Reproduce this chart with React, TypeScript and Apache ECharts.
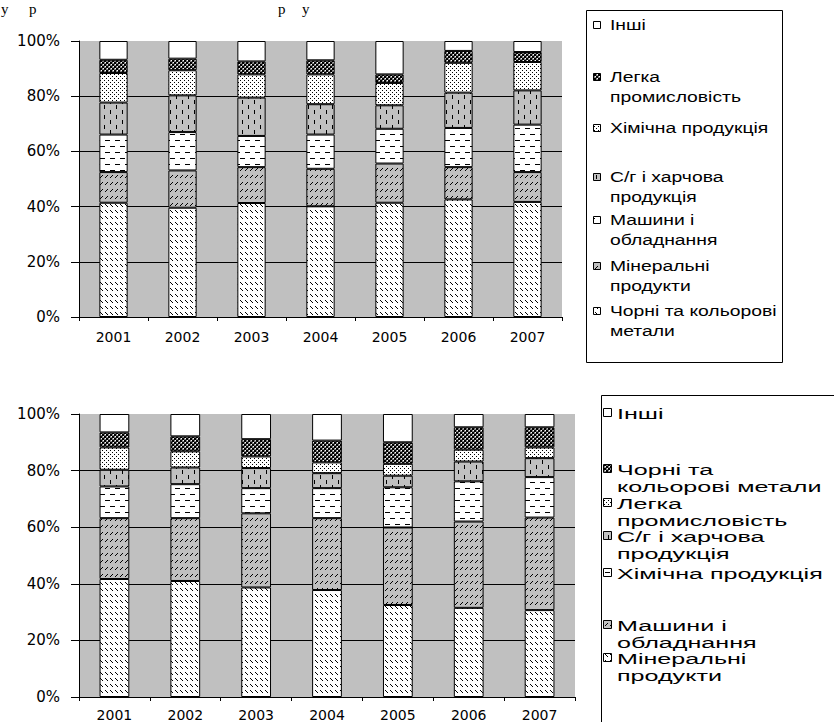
import React, { useEffect, useRef } from 'react';
import * as echarts from 'echarts';

// ---------- DATA ----------
const years = ['2001', '2002', '2003', '2004', '2005', '2006', '2007'];

// Top chart (stack bottom -> top)
const topNames = [
  'Чорні та кольорові метали',
  'Мінеральні продукти',
  'Машини і обладнання',
  'С/г і харчова продукція',
  'Хімічна продукція',
  'Легка промисловість',
  'Інші',
];
const topMetals = [41.4, 39.6, 41.3, 40.1, 41.4, 42.6, 41.7];
const topMinerals = [11.1, 13.5, 13.0, 13.6, 14.2, 11.7, 10.8];
const topMachines = [13.6, 13.9, 11.3, 12.4, 12.6, 14.2, 17.2];
const topAgro = [11.6, 13.3, 13.9, 11.0, 8.5, 12.8, 12.4];
const topChem = [10.7, 9.1, 8.4, 10.8, 8.1, 10.8, 10.3];
const topLight = [4.8, 4.2, 4.7, 5.1, 3.1, 4.3, 3.6];
const topOther = [6.8, 6.4, 7.4, 7.0, 12.1, 3.6, 4.0];

// Bottom chart (stack bottom -> top)
const botNames = [
  'Мінеральні продукти',
  'Машини і обладнання',
  'Хімічна продукція',
  'С/г і харчова продукція',
  'Легка промисловість',
  'Чорні та кольорові метали',
  'Інші',
];
const botMinerals = [41.7, 41.0, 38.7, 37.8, 32.5, 31.5, 30.7];
const botMachines = [21.5, 22.2, 26.2, 25.4, 27.4, 30.5, 32.7];
const botChem = [11.2, 12.0, 8.9, 10.6, 14.2, 14.2, 14.3];
const botAgro = [5.9, 5.9, 7.1, 5.3, 4.1, 7.0, 6.7];
const botLight = [7.9, 5.7, 4.1, 3.8, 4.2, 4.2, 3.8];
const botMetals = [5.3, 5.3, 6.1, 7.7, 7.6, 7.9, 7.1];
const botOther = [6.5, 7.9, 8.9, 9.4, 10.0, 4.7, 4.7];

// Legend texts (top -> bottom, as in the pictures)
const topLegendText = [
  'Інші',
  'Легка\nпромисловість',
  'Хімічна продукція',
  'С/г і харчова\nпродукція',
  'Машини і\nобладнання',
  'Мінеральні\nпродукти',
  'Чорні та кольорові\nметали',
];
const botLegendText = [
  'Інші',
  'Чорні та\nкольорові метали',
  'Легка\nпромисловість',
  'С/г і харчова\nпродукція',
  'Хімічна продукція',
  'Машини і\nобладнання',
  'Мінеральні\nпродукти',
];
const headerFragments = ['у', 'р', 'р', 'у'];

// ---------- LAYOUT ----------
const topLegendY = [25, 77, 128, 177, 220, 266, 311];
const botLegendY = [413, 469, 503, 536, 573, 625, 658];
const headerX = [1, 29, 278, 302];

type Pat = { image: string; repeat: string; imageWidth: number; imageHeight: number } | string;

function makeTile(rows: string[], colors: Record<string, string>): Pat {
  const h = rows.length;
  const w = rows[0].length;
  const c = document.createElement('canvas');
  c.width = w;
  c.height = h;
  const ctx = c.getContext('2d')!;
  for (let y = 0; y < h; y++) {
    for (let x = 0; x < w; x++) {
      ctx.fillStyle = colors[rows[y][x]];
      ctx.fillRect(x, y, 1, 1);
    }
  }
  return { image: c.toDataURL(), repeat: 'repeat', imageWidth: w, imageHeight: h };
}

function buildPatterns(): Pat[] {
  const cols = { B: '#000000', W: '#ffffff', G: '#c0c0c0', D: '#808080' };
  const back = makeTile(
    ['BWWWW', 'WBWWW', 'WWBWW', 'WWWWW', 'WWWWW', 'WWWWW'],
    cols
  );
  const fwd = makeTile(
    ['GGBGG', 'GBGGG', 'BGGGG', 'GGGGG', 'GGGGG', 'GGGGG', 'GGGGG'],
    cols
  );
  const hdash = makeTile(
    [
      'WWWWWWWWWW',
      'WWWWWWWWWW',
      'BBBBBWWWWW',
      'WWWWWWWWWW',
      'WWWWWWWWWW',
      'WWWWWWWWWW',
      'WWWWWWWWWW',
      'WWWWWWWWWW',
      'WWWWWBBBBB',
      'WWWWWWWWWW',
      'WWWWWWWWWW',
      'WWWWWWWWWW',
    ],
    cols
  );
  const vdash = makeTile(
    [
      'GGBGGGGGGGGG',
      'GGBGGGGGGGGG',
      'GGBGGGGGGGGG',
      'GGBGGGGGGGGG',
      'GGGGGGGGGGGG',
      'GGGGGGGGBGGG',
      'GGGGGGGGBGGG',
      'GGGGGGGGBGGG',
      'GGGGGGGGBGGG',
      'GGGGGGGGGGGG',
    ],
    cols
  );
  const dots = makeTile(['BWWW', 'WWWW', 'WWBW', 'WWWW'], cols);
  const dark = makeTile(['BBDW', 'BBDD', 'DWBB', 'DDBB'], cols);
  return [back, fwd, hdash, vdash, dots, dark, '#ffffff'];
}

export default function App() {
  const ref = useRef<HTMLDivElement>(null);

  useEffect(() => {
    const el = ref.current;
    if (!el) return;
    const chart = echarts.init(el, undefined, { renderer: 'svg' });
    const patterns = buildPatterns();

    const topData = [topMetals, topMinerals, topMachines, topAgro, topChem, topLight, topOther];
    const botData = [botMinerals, botMachines, botChem, botAgro, botLight, botMetals, botOther];

    const axisFont = 'DejaVu Sans';

    const makeX = (gridIndex: number, margin: number) => ({
      type: 'category',
      gridIndex,
      data: years,
      boundaryGap: true,
      axisLine: { show: true, lineStyle: { color: '#000', width: 1 } },
      axisTick: { show: true, length: 4, alignWithLabel: false, lineStyle: { color: '#000' } },
      axisLabel: { color: '#000', fontFamily: axisFont, fontSize: 14, margin },
      splitLine: { show: false },
    });
    const makeY = (gridIndex: number) => ({
      type: 'value',
      gridIndex,
      min: 0,
      max: 100,
      interval: 20,
      axisLine: { show: true, lineStyle: { color: '#000', width: 1 } },
      axisTick: { show: true, length: 8, lineStyle: { color: '#000' } },
      axisLabel: {
        color: '#000',
        fontFamily: axisFont,
        fontSize: 15,
        margin: 19,
        formatter: '{value}%',
      },
      splitLine: {
        show: true,
        showMaxLine: false,
        lineStyle: { color: '#000', width: 1 },
      },
    });

    const series: any[] = [];
    topData.forEach((d, i) => {
      series.push({
        type: 'bar',
        name: topNames[i],
        stack: 'top',
        xAxisIndex: 0,
        yAxisIndex: 0,
        data: d,
        barWidth: '41%',
        itemStyle: { color: patterns[i], borderColor: '#000', borderWidth: 1 },
        emphasis: { disabled: true },
      });
    });
    botData.forEach((d, i) => {
      series.push({
        type: 'bar',
        name: botNames[i],
        stack: 'bottom',
        xAxisIndex: 1,
        yAxisIndex: 1,
        data: d,
        barWidth: '42%',
        itemStyle: { color: patterns[i], borderColor: '#000', borderWidth: 1 },
        emphasis: { disabled: true },
      });
    });

    const graphics: any[] = [];
    // header fragments (letters of the document line above the charts)
    headerFragments.forEach((t, i) => {
      graphics.push({
        type: 'text',
        x: headerX[i],
        y: 1,
        style: {
          text: t,
          fontFamily: 'Liberation Serif',
          fontSize: 15,
          fill: '#000',
          verticalAlign: 'top',
        },
      });
    });

    // top legend box
    graphics.push({
      type: 'rect',
      shape: { x: 586.5, y: 10.5, width: 196, height: 352 },
      style: { fill: '#fff', stroke: '#000', lineWidth: 1 },
    });
    topLegendText.forEach((t, k) => {
      const cy = topLegendY[k];
      graphics.push({
        type: 'rect',
        shape: { x: 593.5, y: Math.round(cy - 4) + 0.5, width: 7, height: 7 },
        style: { fill: patterns[6 - k], stroke: '#000', lineWidth: 1 },
        z: 10,
      });
      graphics.push({
        type: 'text',
        x: 610,
        y: cy - 10,
        scaleX: 1.38,
        style: {
          text: t,
          fontFamily: 'Liberation Sans',
          fontSize: 14,
          lineHeight: 20,
          fill: '#000',
          verticalAlign: 'top',
        },
        z: 10,
      });
    });

    // bottom legend box
    graphics.push({
      type: 'rect',
      shape: { x: 601.5, y: 395.5, width: 400, height: 400 },
      style: { fill: '#fff', stroke: '#000', lineWidth: 1 },
    });
    botLegendText.forEach((t, k) => {
      const cy = botLegendY[k];
      graphics.push({
        type: 'rect',
        shape: { x: 603.5, y: Math.round(cy - 5) + 0.5, width: 8, height: 8 },
        style: { fill: patterns[6 - k], stroke: '#000', lineWidth: 1 },
        z: 10,
      });
      graphics.push({
        type: 'text',
        x: 617,
        y: cy - 8.5,
        scaleX: 1.62,
        style: {
          text: t,
          fontFamily: 'Liberation Sans',
          fontSize: 15.5,
          lineHeight: 17,
          fill: '#000',
          verticalAlign: 'top',
        },
        z: 10,
      });
    });

    chart.setOption({
      animation: false,
      backgroundColor: '#ffffff',
      tooltip: { show: false },
      grid: [
        {
          left: 79,
          top: 41,
          width: 483,
          height: 276,
          show: true,
          backgroundColor: '#c0c0c0',
          borderWidth: 0,
          containLabel: false,
        },
        {
          left: 79,
          top: 414,
          width: 496,
          height: 283,
          show: true,
          backgroundColor: '#c0c0c0',
          borderWidth: 0,
          containLabel: false,
        },
      ],
      xAxis: [makeX(0, 13), makeX(1, 11)],
      yAxis: [makeY(0), makeY(1)],
      series,
      graphic: graphics,
    });

    return () => {
      chart.dispose();
    };
  }, []);

  return (
    <div
      ref={ref}
      style={{
        position: 'absolute',
        left: 0,
        top: 0,
        width: 834,
        height: 722,
        background: '#fff',
        overflow: 'hidden',
      }}
    />
  );
}
